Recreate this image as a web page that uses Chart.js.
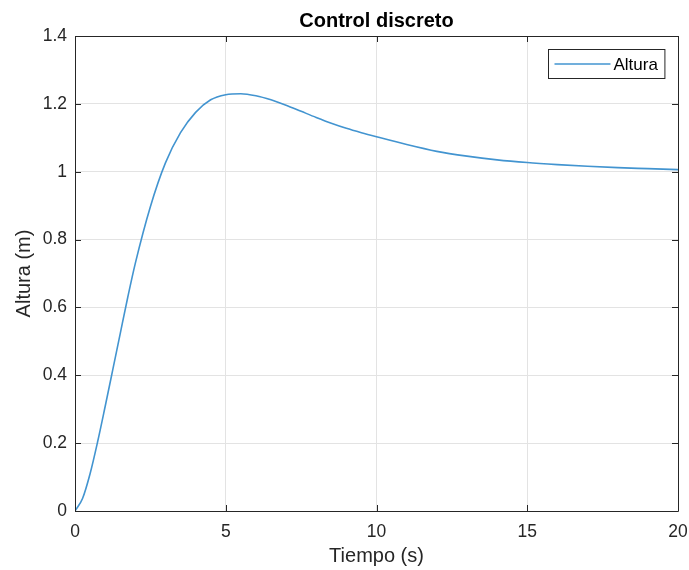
<!DOCTYPE html>
<html>
<head>
<meta charset="utf-8">
<script src="https://cdn.jsdelivr.net/npm/chart.js@4/dist/chart.umd.min.js"></script>
<style>
  html, body { margin: 0; padding: 0; background: #ffffff; }
  #wrap { width: 689px; height: 570px; position: relative; }
</style>
</head>
<body>
<div id="wrap"><canvas id="c" width="689" height="570"></canvas></div>
<script>
// Data
const tiempo = [0, 0.25, 0.5, 0.75, 1.0, 1.25, 1.5, 1.75, 2.0, 2.5, 3.0, 3.5, 4.0, 4.5, 5.0, 5.5, 6.0, 6.5, 7.0, 7.5, 8.0, 8.5, 9.0, 9.5, 10, 11, 12, 13, 14, 15, 16, 17, 18, 19, 20];
const altura = [0, 0.037, 0.110, 0.204, 0.308, 0.415, 0.523, 0.630, 0.730, 0.897, 1.026, 1.115, 1.175, 1.212, 1.227, 1.230, 1.224, 1.212, 1.196, 1.178, 1.160, 1.143, 1.128, 1.115, 1.103, 1.080, 1.060, 1.046, 1.035, 1.027, 1.021, 1.016, 1.012, 1.009, 1.006];
const xTicks = [0, 5, 10, 15, 20];
const yTicks = [0, 0.2, 0.4, 0.6, 0.8, 1.0, 1.2, 1.4];
const seriesLabel = 'Altura';
const titleText = 'Control discreto';
const xTitle = 'Tiempo (s)';
const yTitle = 'Altura (m)';

const FONT = "'Liberation Sans', Arial, Helvetica, sans-serif";
const AXIS_COLOR = '#262626';
const GRID_COLOR = '#e3e3e3';
const LINE_COLOR = '#4294d0';

const points = tiempo.map((t, i) => ({ x: t, y: altura[i] }));

const boxPlugin = {
  id: 'matlabBox',
  afterDatasetsDraw(chart) {
    const { ctx, chartArea: a, scales } = chart;
    const tl = 6;
    ctx.save();
    ctx.strokeStyle = AXIS_COLOR;
    ctx.lineWidth = 1;
    ctx.beginPath();
    ctx.rect(Math.round(a.left) + 0.5, Math.round(a.top) + 0.5, Math.round(a.right - a.left), Math.round(a.bottom - a.top));
    ctx.stroke();
    ctx.beginPath();
    xTicks.forEach(v => {
      const px = Math.round(scales.x.getPixelForValue(v)) + 0.5;
      ctx.moveTo(px, a.bottom); ctx.lineTo(px, a.bottom - tl);
      ctx.moveTo(px, a.top); ctx.lineTo(px, a.top + tl);
    });
    yTicks.forEach(v => {
      const py = Math.round(scales.y.getPixelForValue(v)) + 0.5;
      ctx.moveTo(a.left, py); ctx.lineTo(a.left + tl, py);
      ctx.moveTo(a.right, py); ctx.lineTo(a.right - tl, py);
    });
    ctx.stroke();

    // title centred over the axes
    ctx.fillStyle = '#000000';
    ctx.font = 'bold 20px ' + FONT;
    ctx.textAlign = 'center';
    ctx.textBaseline = 'alphabetic';
    ctx.fillText(titleText, (a.left + a.right) / 2, 27);

    // legend box (inside axes, top-right)
    const ds = chart.data.datasets[0];
    ctx.font = '17px ' + FONT;
    const tw = ctx.measureText(ds.label).width;
    const lineLen = 56;
    const bw = 6 + lineLen + 3 + tw + 7;
    const bh = 29;
    const bx = Math.round(a.right - 14 - bw) + 0.5;
    const by = Math.round(a.top + 13) + 0.5;
    ctx.fillStyle = '#ffffff';
    ctx.fillRect(bx, by, bw, bh);
    ctx.strokeStyle = AXIS_COLOR;
    ctx.lineWidth = 1;
    ctx.strokeRect(bx, by, bw, bh);
    ctx.strokeStyle = ds.borderColor;
    ctx.lineWidth = 1.5;
    ctx.beginPath();
    ctx.moveTo(bx + 6, by + bh / 2);
    ctx.lineTo(bx + 6 + lineLen, by + bh / 2);
    ctx.stroke();
    ctx.fillStyle = '#000000';
    ctx.textBaseline = 'middle';
    ctx.textAlign = 'left';
    ctx.fillText(ds.label, bx + 6 + lineLen + 3, by + bh / 2 + 1);
    ctx.restore();
  }
};

new Chart(document.getElementById('c'), {
  type: 'line',
  data: {
    datasets: [{
      label: seriesLabel,
      data: points,
      borderColor: LINE_COLOR,
      borderWidth: 1.6,
      pointRadius: 0,
      fill: false,
      cubicInterpolationMode: 'monotone'
    }]
  },
  options: {
    responsive: false,
    animation: false,
    devicePixelRatio: 1,
    layout: { padding: { left: 0, right: 11, top: 36, bottom: 0 } },
    plugins: {
      legend: { display: false },
      tooltip: { enabled: false },
      title: { display: false }
    },
    scales: {
      x: {
        type: 'linear',
        min: 0,
        max: 20,
        afterBuildTicks: s => { s.ticks = xTicks.map(v => ({ value: v })); },
        ticks: { color: AXIS_COLOR, font: { family: FONT, size: 17.5 }, padding: 11, maxRotation: 0,
          callback: v => String(v) },
        grid: { color: GRID_COLOR, drawTicks: false },
        border: { display: false },
        title: { display: true, text: xTitle, color: AXIS_COLOR, font: { family: FONT, size: 20, lineHeight: 1.2 }, padding: { top: 0, bottom: 2 } },
        afterFit: s => { s.height = 59; s.paddingRight = 0; s.paddingLeft = 0; }
      },
      y: {
        type: 'linear',
        min: 0,
        max: 1.4,
        afterBuildTicks: s => { s.ticks = yTicks.map(v => ({ value: v })); },
        ticks: { color: AXIS_COLOR, font: { family: FONT, size: 17.5 }, padding: 8,
          callback: v => String(+v.toFixed(1)) },
        grid: { color: GRID_COLOR, drawTicks: false },
        border: { display: false },
        title: { display: true, text: yTitle, color: AXIS_COLOR, font: { family: FONT, size: 20, lineHeight: 1.2 }, padding: { top: 12, bottom: 0 } },
        afterFit: s => { s.width = 75; s.paddingTop = 0; s.paddingBottom = 0; }
      }
    }
  },
  plugins: [boxPlugin]
});
</script>
</body>
</html>
